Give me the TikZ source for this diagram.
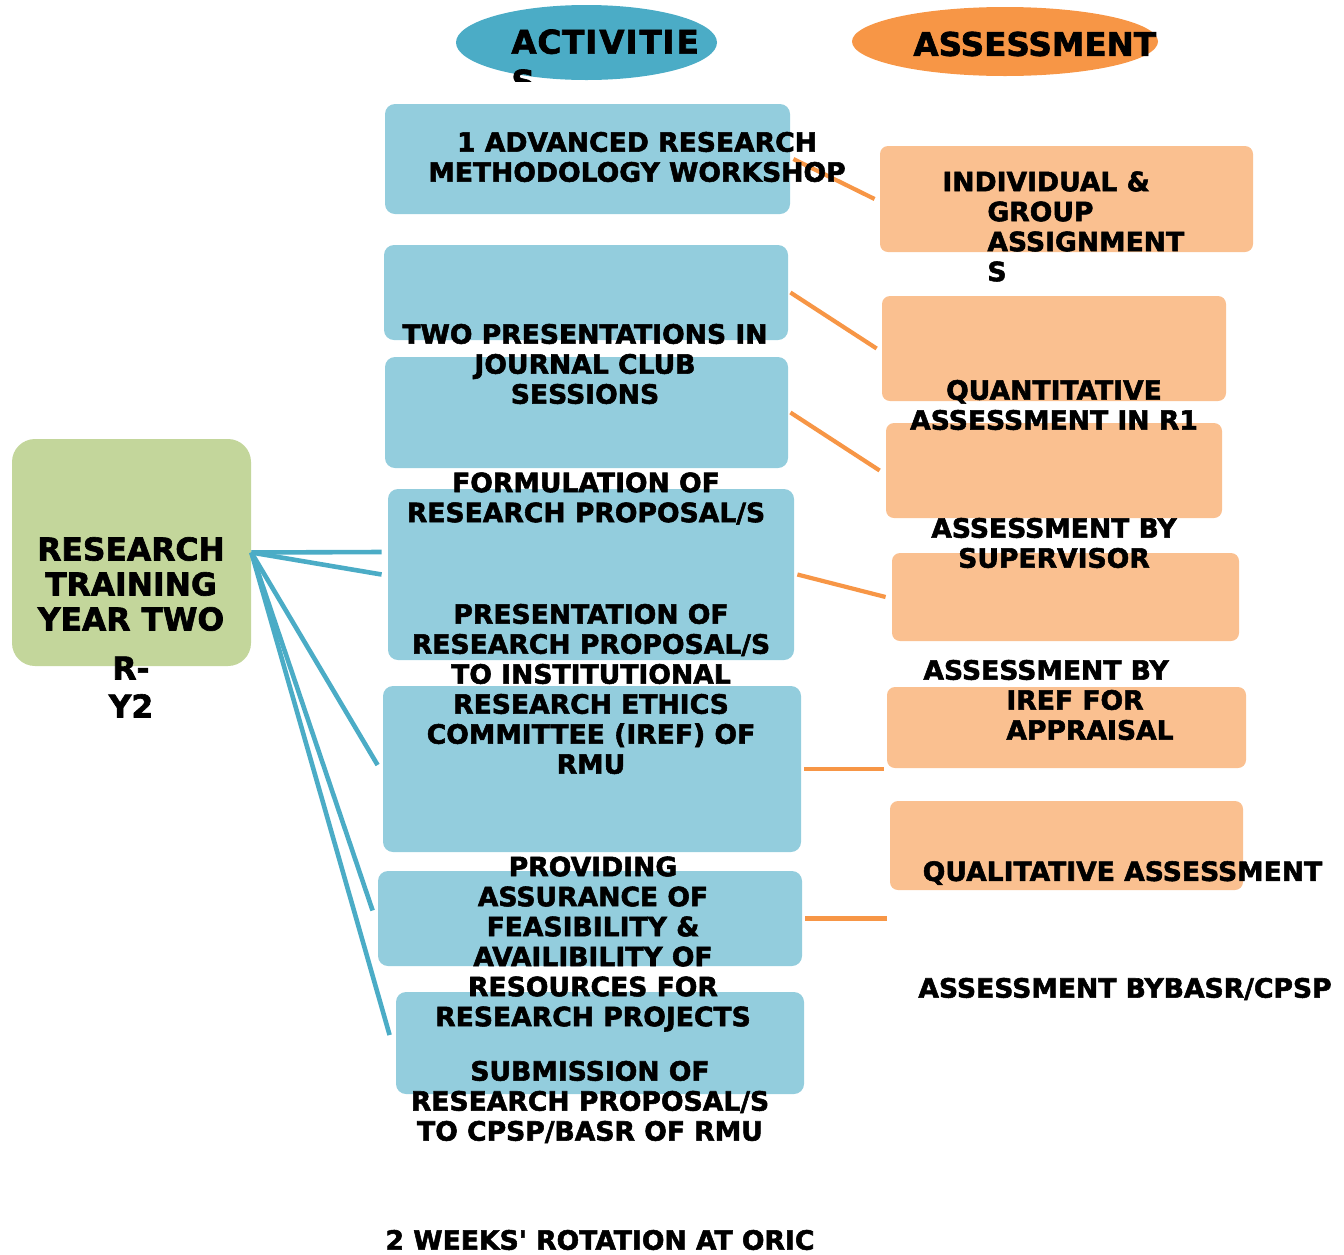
\documentclass[tikz,border=0pt]{standalone}
\usepackage{fontspec}
\setmainfont{DejaVu Sans}[BoldFeatures={FakeBold=2}]
\usetikzlibrary{shapes.geometric}
\definecolor{actfill}{HTML}{93CDDD}
\definecolor{actline}{HTML}{4BACC6}
\definecolor{assfill}{HTML}{FAC090}
\definecolor{assline}{HTML}{F79646}
\definecolor{yearfill}{HTML}{C3D69B}
% straight apostrophe, set as a glyph so that no quote mapping applies
\newcommand{\straightquote}{\XeTeXglyph\XeTeXglyphindex "quotesingle"\relax}

\begin{document}
\begin{tikzpicture}[x=0.5pt,y=-0.5pt,
  actbox/.style={rectangle, rounded corners=5pt, fill=actfill, inner sep=0pt},
  assbox/.style={rectangle, rounded corners=4pt, fill=assfill, inner sep=0pt},
  headfont/.style={font=\fontsize{16.3}{20}\selectfont\bfseries},
  bodytext/.style={inner sep=0pt, align=center, font=\fontsize{13.3}{15}\selectfont\bfseries},
  lefttext/.style={inner sep=0pt, align=left, font=\fontsize{13.3}{15}\selectfont\bfseries},
  actlink/.style={draw=actline, line width=2.3pt},
  asslink/.style={draw=assline, line width=2.1pt},
]
\useasboundingbox (0,0) rectangle (1344,1254);

% column headings
\node[ellipse, fill=actline, minimum width=130.5pt, minimum height=37.5pt, inner sep=0pt] (acthead) at (586.5,42.5) {};
\node[ellipse, fill=assline, minimum width=153pt, minimum height=34.5pt, inner sep=0pt] (asshead) at (1005,41.5) {};
\begin{scope}
  \clip (440,0) rectangle (760,81);
  \node[headfont, inner sep=0pt, align=left, anchor=north west] (acttext) at (511,29) {A\kern0.4pt C\kern0.4pt T\kern0.4pt I\kern1pt V\kern0.4pt I\kern1pt T\kern0.4pt I\kern1pt E\\S};
\end{scope}
\node[headfont, inner sep=0pt, anchor=west] (asstext) at (913,44) {ASSESSMENT};

% year block
\node[rectangle, rounded corners=11.5pt, fill=yearfill, minimum width=119.5pt, minimum height=113.5pt, inner sep=0pt] (year) at (131.5,552.5) {};

% activity boxes
\node[actbox, minimum width=202.5pt, minimum height=55pt] (b1) at (587.5,159) {};
\node[actbox, minimum width=202pt, minimum height=47.5pt] (b2) at (586,292.5) {};
\node[actbox, minimum width=201.5pt, minimum height=55.5pt] (b3) at (586.5,412.5) {};
\node[actbox, minimum width=203pt, minimum height=85.5pt] (b4) at (591,574.5) {};
\node[actbox, minimum width=209pt, minimum height=83pt] (b5) at (592,769) {};
\node[actbox, minimum width=212pt, minimum height=47.5pt] (b6) at (590,918.5) {};
\node[actbox, minimum width=204pt, minimum height=51pt] (b7) at (600,1043) {};

% assessment boxes
\node[assbox, minimum width=186.5pt, minimum height=53pt] (o1) at (1066.5,199) {};
\node[assbox, minimum width=172pt, minimum height=52.5pt] (o2) at (1054,348.5) {};
\node[assbox, minimum width=168pt, minimum height=47.5pt] (o3) at (1054,470.5) {};
\node[assbox, minimum width=173.5pt, minimum height=44pt] (o4) at (1065.5,597) {};
\node[assbox, minimum width=179.5pt, minimum height=40.5pt] (o5) at (1066.5,727.5) {};
\node[assbox, minimum width=176.5pt, minimum height=44.5pt] (o6) at (1066.5,845.5) {};

% connector ends
\coordinate (b4top) at ([xshift=-3pt,yshift=11.25pt]b4.west);
\coordinate (b4mid) at ([xshift=-3pt]b4.west);
\coordinate (b5in) at ([xshift=-2.5pt,yshift=2pt]b5.west);
\coordinate (b6in) at ([xshift=-2.5pt,yshift=4pt]b6.west);
\coordinate (b7in) at ([xshift=-3pt,yshift=4pt]b7.west);
\coordinate (b5out) at ([xshift=1.5pt]b5.east);
\coordinate (o5in) at (884,769);
\coordinate (o6in) at (887,918.5);

% year to activities
\draw[actlink] (year.east) -- (b4top);
\draw[actlink] (year.east) -- (b4mid);
\draw[actlink] (year.east) -- (b5in);
\draw[actlink] (year.east) -- (b6in);
\draw[actlink] (year.east) -- (b7in);

% activities to assessments
\draw[asslink] ([xshift=1.5pt]b1.east) -- ([xshift=-2.5pt]o1.west);
\draw[asslink] ([xshift=1pt]b2.east) -- ([xshift=-2.5pt]o2.west);
\draw[asslink] ([xshift=1pt]b3.east) -- ([xshift=-3pt]o3.west);
\draw[asslink] ([xshift=1.5pt]b4.east) -- ([xshift=-3pt]o4.west);
\draw[asslink] (b5out) -- (o5in);
\draw[asslink] ([xshift=1.5pt]b6.east) -- (o6in);

% year labels
\node[inner sep=0pt, align=center, font=\fontsize{15.7}{17.5}\selectfont\bfseries] (yeartext) at (131,584) {RESEARCH\\TRAINING\\YEAR TWO};
\node[inner sep=0pt, align=center, font=\fontsize{15.7}{19}\selectfont\bfseries] (yearcode) at (131,687) {R-\\Y2};

% activity labels
\node[bodytext] (t1) at (637,157) {1 ADVANCED RESEARCH\\METHODOLOGY WORKSHOP};
\node[bodytext] (t2) at (585,364) {TWO PRESENTATIONS IN\\JOURNAL CLUB\\SESSIONS};
\node[bodytext] (t3) at (586,498.5) {FORMULATION OF\\RESEARCH PROPOSAL/S};
\node[bodytext] (t4) at (591,689) {PRESENTATION OF\\RESEARCH PROPOSAL/S\\TO INSTITUTIONAL\\RESEARCH ETHICS\\COMMITTEE (IREF) OF\\RMU};
\node[bodytext] (t5) at (593,944) {PROVIDING\\ASSURANCE OF\\FEASIBILITY \&\\AVAILIBILITY OF\\RESOURCES FOR\\RESEARCH PROJECTS};
\node[bodytext] (t6) at (590,1102) {SUBMISSION OF\\RESEARCH PROPOSAL/S\\TO CPSP/BASR OF RMU};
\node[bodytext] (t7) at (600,1240) {2 WEEKS\straightquote\ ROTATION AT ORIC};

% assessment labels
\node[lefttext, anchor=west] (a1) at (942,226.5) {INDIVIDUAL \&\\\hspace*{22.5pt}GROUP\\\hspace*{22.5pt}ASSIGNMENT\\\hspace*{22.5pt}S};
\node[bodytext] (a2) at (1054,405) {QUANTITATIVE\\ASSESSMENT IN R1};
\node[bodytext] (a3) at (1054,543) {ASSESSMENT BY\\SUPERVISOR};
\node[lefttext, anchor=west] (a4) at (923,700) {ASSESSMENT BY\\\hspace*{41.5pt}IREF FOR\\\hspace*{41.5pt}APPRAISAL};
\node[bodytext] (a5) at (1122.5,873) {QUALITATIVE ASSESSMENT};
\node[bodytext] (a6) at (1125,989) {ASSESSMENT BYBASR/CPSP};

\end{tikzpicture}
\end{document}
